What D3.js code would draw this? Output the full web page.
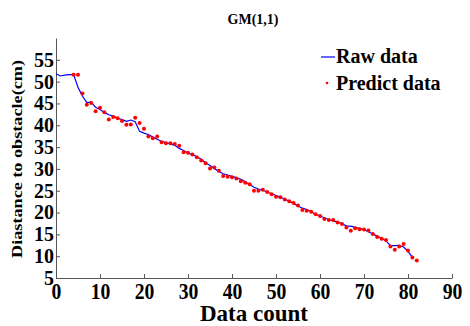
<!DOCTYPE html>
<html>
<head>
<meta charset="utf-8">
<script src="https://cdn.jsdelivr.net/npm/d3@7"></script>
<style>
  body { margin: 0; background: #fff; }
  text { font-family: "Liberation Serif", "Times New Roman", serif; }
</style>
</head>
<body>
<div id="chart"></div>
<script>
// raw measurement, index 0..81
let rawValues = [51.8, 51.3, 51.5, 51.6, 51.6, 48.7, 46.7, 45.2, 45.3, 44.1,
    43.6, 42.9, 42.4, 42.1, 41.6, 41.3, 40.9, 41.2, 40.8, 38.6,
    38.2, 37.9, 37.3, 36.8, 36.3, 36.0, 35.8, 35.4, 34.7, 34.2,
    33.6, 33.3, 32.8, 32.2, 31.4, 30.8, 30.1, 29.4, 28.9, 28.6,
    28.3, 28.0, 27.6, 27.1, 26.4, 25.8, 25.4, 25.1, 24.7, 24.3,
    23.9, 23.5, 23.1, 22.6, 22.1, 21.5, 21.0, 20.7, 20.2, 19.6,
    19.2, 18.8, 18.4, 18.1, 17.8, 17.5, 16.9, 16.9, 16.6, 16.4,
    16.1, 15.6, 15.1, 14.6, 14.1, 13.5, 12.4, 12.4, 12.5, 12.1,
    11.1, 9.8];
let rawStart = 0;

// GM(1,1) prediction, index 4..82
let predValues = [51.6, 51.6, 47.3, 44.7, 45.1, 43.2, 44.0, 43.0, 41.3, 41.9,
    41.6, 41.0, 40.1, 40.2, 41.7, 40.5, 39.2, 37.4, 37.0, 37.4,
    36.1, 35.9, 35.9, 35.7, 35.3, 33.8, 33.7, 33.3, 32.7, 31.9,
    31.3, 30.1, 30.3, 29.6, 28.4, 28.2, 28.1, 27.8, 27.2, 26.8,
    26.5, 25.0, 25.0, 25.2, 24.7, 24.2, 23.6, 23.5, 23.0, 22.6,
    22.2, 21.6, 20.6, 20.4, 20.2, 19.6, 19.2, 18.5, 18.3, 18.3,
    17.7, 17.4, 16.6, 15.8, 16.4, 16.2, 16.1, 15.9, 15.1, 14.4,
    14.0, 13.7, 12.2, 11.5, 12.2, 12.8, 11.3, 9.7, 9.0];
let predStart = 4;

let xTicks = [0, 10, 20, 30, 40, 50, 60, 70, 80, 90];
let yTicks = [5, 10, 15, 20, 25, 30, 35, 40, 45, 50, 55];
let legendLabels = ["Raw data", "Predict data"];

function draw() {
    d3.select("#chart").selectAll("*").remove();

    let width = 470, height = 326;
    let margin = { top: 38, right: 18, bottom: 48, left: 56 };

    let svg = d3.select("#chart").append("svg")
        .attr("width", width)
        .attr("height", height);

    let x = d3.scaleLinear().domain([0, 90]).range([margin.left, width - margin.right]);
    let y = d3.scaleLinear().domain([5, 60]).range([height - margin.bottom, margin.top]);

    let rawData = rawValues.map((v, i) => ({ x: rawStart + i, y: v }));
    let predData = predValues.map((v, i) => ({ x: predStart + i, y: v }));

    // title
    svg.append("text")
        .attr("x", 253)
        .attr("y", 24)
        .attr("text-anchor", "middle")
        .style("font-size", "14px")
        .style("font-weight", "bold")
        .text("GM(1,1)");

    // axes (ticks inward, matlab style)
    let gx = svg.append("g")
        .attr("transform", `translate(0,${height - margin.bottom})`)
        .call(d3.axisBottom(x).tickValues(xTicks).tickSizeInner(-4).tickSizeOuter(0).tickPadding(2));
    gx.selectAll("text")
        .attr("dy", "0.78em")
        .attr("transform", "scale(0.82,1)")
        .style("font-size", "24px")
        .style("font-weight", "bold")
        .style("font-family", "'Liberation Serif', serif")
        .style("fill", "#000");

    let gy = svg.append("g")
        .attr("transform", `translate(${margin.left},0)`)
        .call(d3.axisLeft(y).tickValues(yTicks).tickSizeInner(-4).tickSizeOuter(0).tickPadding(2));
    gy.selectAll("text")
        .style("font-size", "20px")
        .style("font-weight", "bold")
        .style("font-family", "'Liberation Serif', serif")
        .style("fill", "#000");

    svg.selectAll(".domain, .tick line").attr("stroke", "#555");

    // axis labels
    svg.append("text")
        .attr("x", 254)
        .attr("y", 321)
        .attr("text-anchor", "middle")
        .style("font-size", "23px")
        .style("font-weight", "bold")
        .text("Data count");

    svg.append("text")
        .attr("transform", "translate(22,159) rotate(-90)")
        .attr("text-anchor", "middle")
        .attr("textLength", 198)
        .attr("lengthAdjust", "spacingAndGlyphs")
        .style("font-size", "15px")
        .style("font-weight", "bold")
        .text("Diastance to obstacle(cm)");

    // raw line
    let line = d3.line().x(d => x(d.x)).y(d => y(d.y));
    svg.append("path")
        .datum(rawData)
        .attr("fill", "none")
        .attr("stroke", "#0000ff")
        .attr("stroke-width", 1.2)
        .attr("d", line);

    // predicted dots
    svg.selectAll(".pred")
        .data(predData)
        .enter().append("circle")
        .attr("class", "pred")
        .attr("cx", d => x(d.x))
        .attr("cy", d => y(d.y))
        .attr("r", 2)
        .attr("fill", "#ff0000");

    // legend
    let lg = svg.append("g");
    lg.append("line")
        .attr("x1", 321).attr("x2", 335)
        .attr("y1", 57).attr("y2", 57)
        .attr("stroke", "#0000ff")
        .attr("stroke-width", 1.2);
    lg.append("circle")
        .attr("cx", 327).attr("cy", 83)
        .attr("r", 1.3)
        .attr("fill", "#ff0000");
    lg.selectAll(".lt")
        .data(legendLabels)
        .enter().append("text")
        .attr("x", 336)
        .attr("y", (d, i) => 63 + i * 27)
        .style("font-size", "20px")
        .style("font-weight", "bold")
        .text(d => d);
}

draw();
</script>
</body>
</html>
